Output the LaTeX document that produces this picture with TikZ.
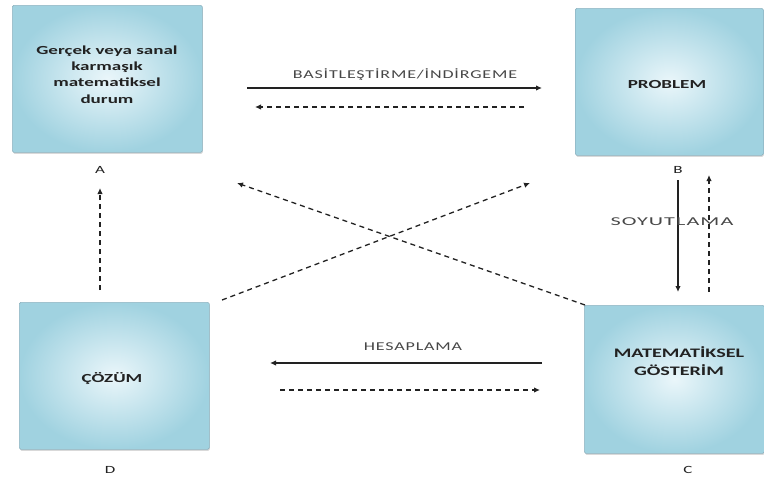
\documentclass[tikz,border=0pt]{standalone}
\usepackage{fontspec}
\setmainfont{Carlito}
\newfontfamily\boxfont{Carlito}[FakeStretch=1.55]
\newfontfamily\labelfont{Carlito}[FakeStretch=1.5, LetterSpace=7]
\newfontfamily\spreadfont{Carlito}[FakeStretch=1.85, LetterSpace=9]
\usetikzlibrary{arrows.meta,shadows}
\definecolor{boxin}{HTML}{EAF6FA}
\definecolor{boxout}{HTML}{A0D2E0}
\definecolor{boxline}{HTML}{8FB3C0}
\definecolor{ink}{HTML}{222222}
\tikzset{
  stagebox/.style={rectangle, rounded corners=1.5pt, draw=boxline, line width=0.6pt,
    inner color=boxin, outer color=boxout,
    drop shadow={shadow xshift=0.6pt, shadow yshift=-1.5pt, opacity=0.3},
    anchor=north west},
  stagetext/.style={font=\boxfont\bfseries\fontsize{12.3}{16.3}\selectfont, text=ink, align=center},
  corner/.style={font=\boxfont\fontsize{11}{12}\selectfont, text=ink},
  flowlabel/.style={font=\labelfont\fontsize{12}{13}\selectfont, text=black!72},
  tip/.style={-{Latex[length=6pt,width=5.5pt]}},
  fwd/.style={tip, line width=1.2pt, draw=ink},
  back/.style={tip, line width=1.3pt, draw=ink, dash pattern=on 5pt off 4pt},
}
\begin{document}
\begin{tikzpicture}[x=1pt,y=-1pt]
\useasboundingbox (0,0) rectangle (764,479);
% the four stages
\node[stagebox, minimum width=190pt, minimum height=147pt] (A) at (12,5) {};
\node[stagebox, minimum width=188pt, minimum height=147pt] (B) at (575,8) {};
\node[stagebox, minimum width=190pt, minimum height=147pt] (D) at (19,302) {};
\node[stagebox, minimum width=180pt, minimum height=148pt] (C) at (584,305) {};
% stage texts
\node[stagetext, anchor=north] (ta) at (107,42) {Gerçek veya sanal\\karmaşık\\matematiksel\\durum};
\node[stagetext] (tb) at (667,85) {PROBLEM};
\node[stagetext] (td) at (112,379) {ÇÖZÜM};
\node[stagetext, font=\boxfont\bfseries\fontsize{13}{18}\selectfont] (tc) at (679,361) {MATEMATİKSEL\\GÖSTERİM};
% corner letters
\node[corner] (la) at (100,170) {A};
\node[corner] (lb) at (678,170) {B};
\node[corner] (lc) at (688,470) {C};
\node[corner] (ld) at (110,470) {D};
% arrow end points
\coordinate (a1) at (247,88);  \coordinate (b1) at (542,88);
\coordinate (b2) at (524,107); \coordinate (a2) at (255,107);
\coordinate (c1) at (542,363); \coordinate (d1) at (270,363);
\coordinate (d2) at (280,390); \coordinate (c2) at (540,390);
\coordinate (b3) at (678,180); \coordinate (c3) at (678,292);
\coordinate (c4) at (709,292); \coordinate (b4) at (709,175);
\coordinate (d3) at (100,290); \coordinate (a3) at (100,188);
\coordinate (d4) at (222,300); \coordinate (b5) at (530,183);
\coordinate (c5) at (585,305); \coordinate (a4) at (237,183);
% connectors
\draw[fwd] (a1) -- (b1);
\node[flowlabel] (lab1) at (405,75) {BASİTLEŞTİRME/İNDİRGEME};
\draw[back] (b2) -- (a2);
\draw[fwd] (c1) -- (d1);
\node[flowlabel] (lab2) at (413,347) {HESAPLAMA};
\draw[back] (d2) -- (c2);
\draw[fwd] (b3) -- (c3);
\draw[back] (c4) -- (b4);
\node[flowlabel, font=\spreadfont\fontsize{12}{13}\selectfont] (soy) at (672,222) {SOYUTLAMA};
\draw[back] (d3) -- (a3);
\draw[back] (d4) -- (b5);
\draw[back] (c5) -- (a4);
\end{tikzpicture}
\end{document}
